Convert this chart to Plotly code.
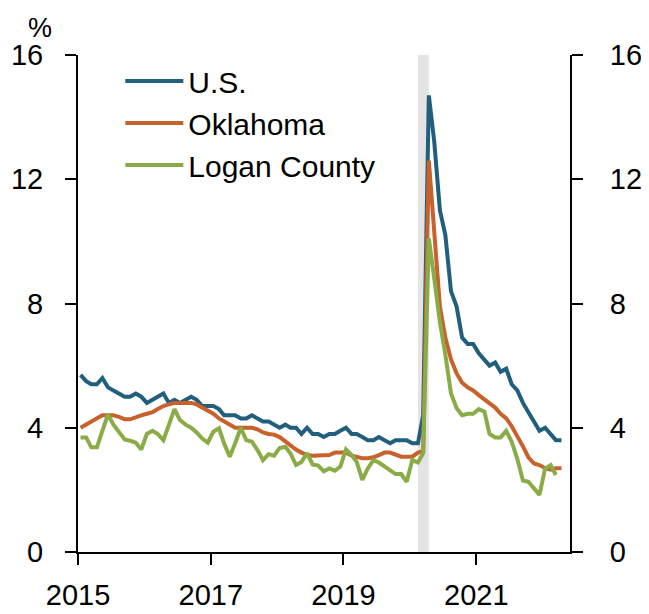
import pandas as pd
import plotly.graph_objects as go

# monthly unemployment rate, %, Jan 2015 onward
us_rate = [
    5.7, 5.5, 5.4, 5.4, 5.6, 5.3, 5.2, 5.1, 5.0, 5.0, 5.1, 5.0,
    4.8, 4.9, 5.0, 5.1, 4.8, 4.9, 4.8, 4.9, 5.0, 4.9, 4.7, 4.7,
    4.7, 4.6, 4.4, 4.4, 4.4, 4.3, 4.3, 4.4, 4.3, 4.2, 4.2, 4.1,
    4.0, 4.1, 4.0, 4.0, 3.8, 4.0, 3.8, 3.8, 3.7, 3.8, 3.8, 3.9,
    4.0, 3.8, 3.8, 3.7, 3.6, 3.6, 3.7, 3.6, 3.5, 3.6, 3.6, 3.6,
    3.5, 3.5, 4.4, 14.7, 13.2, 11.0, 10.2, 8.4, 7.9, 6.9, 6.7, 6.7,
    6.4, 6.2, 6.0, 6.1, 5.8, 5.9, 5.4, 5.2, 4.8, 4.5, 4.2, 3.9,
    4.0, 3.8, 3.6, 3.6,
]
oklahoma_rate = [
    4.0, 4.1, 4.2, 4.3, 4.4, 4.4, 4.4, 4.35, 4.27, 4.27, 4.35, 4.4,
    4.45, 4.5, 4.6, 4.7, 4.75, 4.8, 4.8, 4.8, 4.8, 4.75, 4.65, 4.55,
    4.45, 4.3, 4.2, 4.1, 4.0, 4.0, 4.0, 4.0, 3.95, 3.85, 3.8, 3.78,
    3.7, 3.55, 3.45, 3.3, 3.2, 3.12, 3.1, 3.1, 3.1, 3.12, 3.2, 3.2,
    3.2, 3.1, 3.05, 3.02, 3.02, 3.05, 3.12, 3.2, 3.2, 3.15, 3.07, 3.07,
    3.07, 3.2, 3.25, 12.6, 10.3, 7.9, 6.9, 6.2, 5.75, 5.45, 5.3, 5.2,
    5.05, 4.9, 4.8, 4.65, 4.45, 4.3, 4.05, 3.75, 3.4, 3.05, 2.85, 2.8,
    2.7, 2.65, 2.7, 2.7,
]
logan_rate = [
    3.69, 3.69, 3.37, 3.37, 3.9, 4.43, 4.1, 3.85, 3.62, 3.58, 3.52, 3.3,
    3.8, 3.9, 3.8, 3.6, 4.1, 4.6, 4.25, 4.1, 4.0, 3.85, 3.65, 3.52,
    3.87, 3.98, 3.5, 3.07, 3.5, 4.0, 3.6, 3.55, 3.28, 2.96, 3.15, 3.1,
    3.35, 3.39, 3.18, 2.8, 2.9, 3.18, 2.82, 2.78, 2.6, 2.69, 2.62, 2.75,
    3.3, 3.12, 2.9, 2.32, 2.69, 2.96, 2.88, 2.75, 2.6, 2.51, 2.51, 2.26,
    2.96, 2.88, 3.18, 10.1, 8.8, 7.4, 6.35, 5.1, 4.63, 4.4, 4.45, 4.45,
    4.6, 4.52, 3.8, 3.69, 3.69, 3.9, 3.55, 3.0, 2.3, 2.26, 2.05, 1.84,
    2.69, 2.8, 2.48,
]
recession = ["2020-02-15", "2020-04-15"]
year_ticks = ["2015-01-01", "2017-01-01", "2019-01-01", "2021-01-01"]
year_labels = ["2015", "2017", "2019", "2021"]
y_ticks = [0, 4, 8, 12, 16]

# points sit mid-month
def months(n):
    return pd.date_range("2015-01-01", periods=n, freq="MS") + pd.Timedelta(days=14)

FONT = "Liberation Sans, Arial, sans-serif"

fig = go.Figure()
series = [
    ("U.S.", us_rate, "#215f7c"),
    ("Oklahoma", oklahoma_rate, "#c8612b"),
    ("Logan County", logan_rate, "#8aac46"),
]
for name, vals, col in series:
    fig.add_trace(go.Scatter(x=months(len(vals)), y=vals, name=name, mode="lines",
                             line=dict(color=col, width=4)))

# invisible trace to carry the right-hand axis
fig.add_trace(go.Scatter(x=[months(1)[0]], y=[0], yaxis="y2", showlegend=False,
                         mode="markers", marker=dict(opacity=0), hoverinfo="skip"))

fig.add_vrect(x0=recession[0], x1=recession[1], fillcolor="#e4e4e4", line_width=0,
              layer="below")

fig.add_annotation(text="%", xref="paper", yref="paper", x=-0.077, y=1.055,
                   xanchor="center", yanchor="middle", showarrow=False,
                   font=dict(size=27, color="black", family=FONT))

axis_common = dict(showgrid=False, zeroline=False, showline=True, linecolor="black",
                   linewidth=2, ticks="outside", ticklen=11, tickwidth=2,
                   tickcolor="black", automargin=False,
                   tickfont=dict(size=29, color="black", family=FONT))

# the page body adds an 8px offset, so margins are trimmed on top/left
fig.update_layout(
    width=649, height=614,
    margin=dict(l=70, r=87, t=47, b=70),
    paper_bgcolor="white", plot_bgcolor="white",
    xaxis=dict(range=["2015-01-01", "2022-06-01"], tickvals=year_ticks,
               ticktext=year_labels, ticklabelstandoff=5, **axis_common),
    yaxis=dict(range=[0, 16], tickvals=y_ticks, ticklabelstandoff=16, **axis_common),
    yaxis2=dict(range=[0, 16], tickvals=y_ticks, overlaying="y", side="right",
                ticklabelstandoff=21, **axis_common),
    legend=dict(x=0.086, y=1.0, xanchor="left", yanchor="top", bgcolor="rgba(0,0,0,0)",
                font=dict(size=30, color="black", family=FONT), tracegroupgap=0,
                itemwidth=58),
    showlegend=True,
)

fig.write_html("out.html")
